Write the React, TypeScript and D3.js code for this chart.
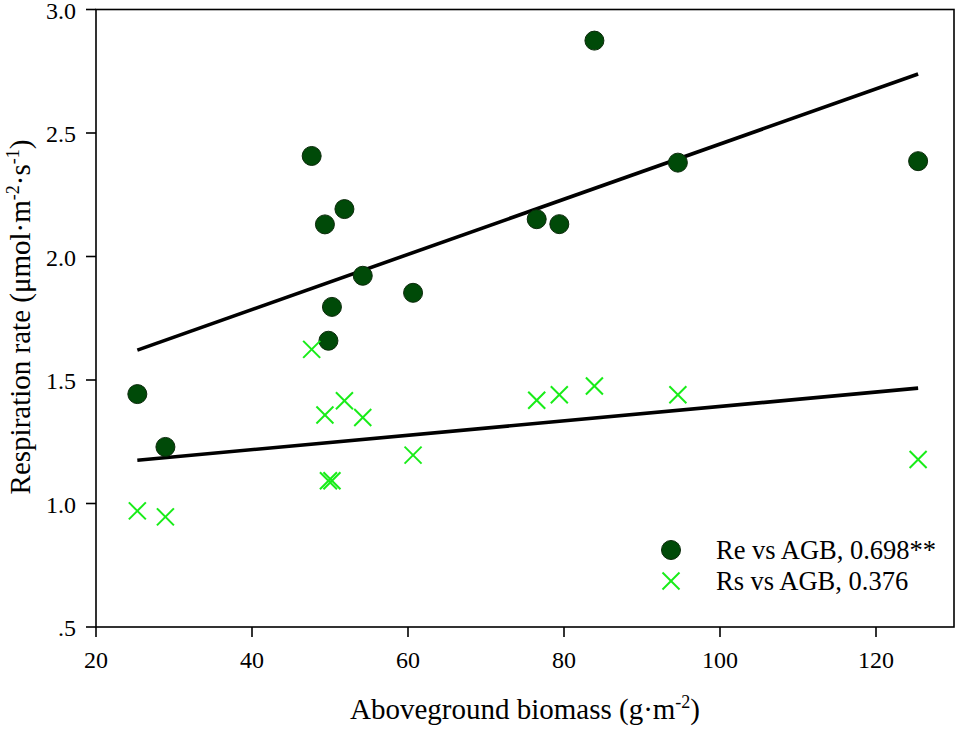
import React from "react";
import * as d3 from "d3";

// Aboveground biomass (g·m^-2)
const agb = [25.3, 28.9, 47.65, 49.35, 49.8, 50.25, 51.85, 54.2, 60.65, 76.5, 79.4, 83.9, 94.6, 125.4];
// Ecosystem respiration (Re)
const reValues = [1.443, 1.229, 2.407, 2.13, 1.659, 1.796, 2.192, 1.922, 1.853, 2.151, 2.131, 2.874, 2.38, 2.386];
// Soil respiration (Rs)
const rsValues = [0.97, 0.946, 1.624, 1.358, 1.092, 1.092, 1.416, 1.348, 1.196, 1.418, 1.44, 1.476, 1.44, 1.178];

// Regression line end points
const fitX = [25.3, 125.4];
const reFit = [1.621, 2.739];
const rsFit = [1.175, 1.467];

const xTicks = [20, 40, 60, 80, 100, 120];
const yTicks = [0.5, 1.0, 1.5, 2.0, 2.5, 3.0];
const yTickLabels = [".5", "1.0", "1.5", "2.0", "2.5", "3.0"];
const legendLabels = ["Re vs AGB, 0.698**", "Rs vs AGB, 0.376"];

const W = 957;
const H = 736;
const M = { left: 96, right: 954, top: 9.5, bottom: 627 };
const FONT = "'Liberation Serif', 'Times New Roman', serif";
const DARK = "#004a08";
const LIGHT = "#18ec18";

export default function App() {
  const x = d3.scaleLinear().domain([20, 130]).range([M.left, M.right]);
  const y = d3.scaleLinear().domain([0.5, 3.0]).range([M.bottom, M.top]);
  const line = d3
    .line<[number, number]>()
    .x((d) => x(d[0]))
    .y((d) => y(d[1]));
  const rePts: [number, number][] = fitX.map((v, i) => [v, reFit[i]]);
  const rsPts: [number, number][] = fitX.map((v, i) => [v, rsFit[i]]);
  const cs = 8.5;
  const cross = (cx: number, cy: number, key: string) => (
    <g key={key} stroke={LIGHT} strokeWidth={2}>
      <line x1={cx - cs} y1={cy - cs} x2={cx + cs} y2={cy + cs} />
      <line x1={cx - cs} y1={cy + cs} x2={cx + cs} y2={cy - cs} />
    </g>
  );

  return (
    <svg
      width={W}
      height={H}
      style={{ position: "absolute", left: 0, top: 0, background: "#fff" }}
      fontFamily={FONT}
    >
      {/* frame */}
      <rect
        x={M.left}
        y={M.top}
        width={M.right - M.left}
        height={M.bottom - M.top}
        fill="none"
        stroke="#000"
        strokeWidth={1.6}
      />
      {/* y ticks */}
      {yTicks.map((t, i) => (
        <g key={"y" + i}>
          <line x1={M.left - 10} x2={M.left} y1={y(t)} y2={y(t)} stroke="#000" strokeWidth={1.6} />
          <text x={76} y={y(t) + 1} dy="0.35em" textAnchor="end" fontSize={24}>
            {yTickLabels[i]}
          </text>
        </g>
      ))}
      {/* x ticks */}
      {xTicks.map((t, i) => (
        <g key={"x" + i}>
          <line x1={x(t)} x2={x(t)} y1={M.bottom} y2={M.bottom + 10} stroke="#000" strokeWidth={1.6} />
          <text x={x(t)} y={668} textAnchor="middle" fontSize={24}>
            {t}
          </text>
        </g>
      ))}
      {/* axis titles */}
      <text x={525} y={719} textAnchor="middle" fontSize={29}>
        Aboveground biomass (g·m
        <tspan dy={-11} fontSize={18}>-2</tspan>
        <tspan dy={11}>)</tspan>
      </text>
      <text
        transform={`translate(30, 317) rotate(-90)`}
        textAnchor="middle"
        fontSize={29}
      >
        Respiration rate (μmol·m
        <tspan dy={-11} fontSize={18}>-2</tspan>
        <tspan dy={11}>·s</tspan>
        <tspan dy={-11} fontSize={18}>-1</tspan>
        <tspan dy={11}>)</tspan>
      </text>
      {/* regression lines */}
      <path d={line(rePts) || ""} fill="none" stroke="#000" strokeWidth={3.6} />
      <path d={line(rsPts) || ""} fill="none" stroke="#000" strokeWidth={3.6} />
      {/* Re circles */}
      {agb.map((v, i) => (
        <circle
          key={"re" + i}
          cx={x(v)}
          cy={y(reValues[i])}
          r={9.5}
          fill={DARK}
          stroke="#0b2a0b"
          strokeWidth={1}
        />
      ))}
      {/* Rs crosses */}
      {agb.map((v, i) => cross(x(v), y(rsValues[i]), "rs" + i))}
      {/* legend */}
      <circle cx={671} cy={550} r={9.5} fill={DARK} stroke="#0b2a0b" strokeWidth={1} />
      {cross(671, 581, "lg")}
      <text x={716} y={550} dy="0.35em" fontSize={26.5}>
        {legendLabels[0]}
      </text>
      <text x={716} y={581} dy="0.35em" fontSize={26.5}>
        {legendLabels[1]}
      </text>
    </svg>
  );
}
